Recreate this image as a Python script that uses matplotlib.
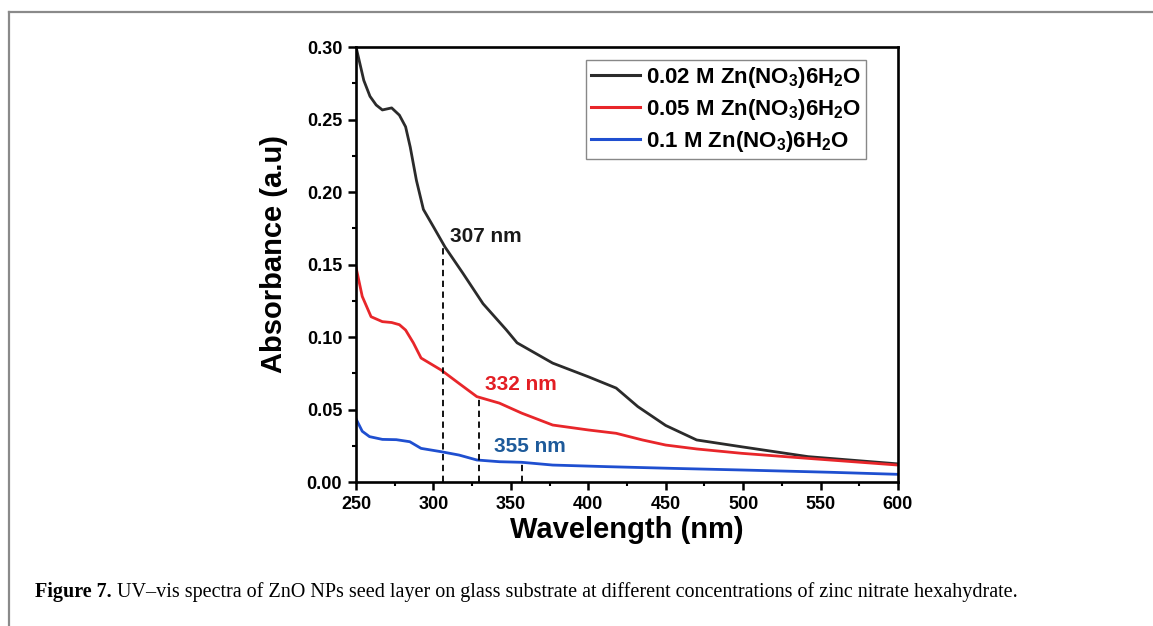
import matplotlib
matplotlib.use('Agg')
import matplotlib.pyplot as plt
from matplotlib.lines import Line2D
from matplotlib.ticker import MultipleLocator, FormatStrFormatter

plt.rcParams['font.family'] = ['Liberation Sans', 'DejaVu Sans']
plt.rcParams['font.weight'] = 'bold'
plt.rcParams['mathtext.fontset'] = 'custom'
plt.rcParams['mathtext.rm'] = 'Liberation Sans:bold'
plt.rcParams['mathtext.it'] = 'Liberation Sans:bold'
plt.rcParams['mathtext.bf'] = 'Liberation Sans:bold'
plt.rcParams['mathtext.default'] = 'rm'

# spectra (wavelength in nm, absorbance in a.u.)
wl_02 = [250, 255, 259, 263, 267, 273, 278, 282, 285, 289, 293.5, 300, 307.5,
         319, 332, 347, 354, 377, 400, 418, 432, 450, 470, 499, 542, 600]
abs_02 = [0.300, 0.277, 0.266, 0.260, 0.2566, 0.258, 0.253, 0.245, 0.231, 0.208,
          0.188, 0.176, 0.162, 0.144, 0.123, 0.105, 0.096, 0.082, 0.0726, 0.0648,
          0.052, 0.039, 0.029, 0.0243, 0.0175, 0.0125]

wl_05 = [250, 254, 259.7, 267, 273, 278, 282, 287, 292, 305, 316.5, 328, 342.6,
         357, 377, 400, 418, 435, 450, 470, 499, 542, 600]
abs_05 = [0.148, 0.128, 0.114, 0.1106, 0.1100, 0.1085, 0.1048, 0.096, 0.0855,
          0.0772, 0.068, 0.0589, 0.0544, 0.0475, 0.0393, 0.0359, 0.0336, 0.029,
          0.0255, 0.0228, 0.0198, 0.0163, 0.0117]

wl_1 = [250, 254, 258.7, 267, 276, 284.7, 292, 305, 316.5, 328, 342.6, 357,
        377, 412, 455, 499, 557, 600]
abs_1 = [0.0435, 0.035, 0.0313, 0.0294, 0.0292, 0.0278, 0.0232, 0.0209, 0.0186,
         0.0152, 0.0140, 0.0136, 0.0117, 0.0106, 0.0094, 0.0083, 0.0067, 0.0053]

labels = ['0.02 M Zn(NO$_3$)6H$_2$O', '0.05 M Zn(NO$_3$)6H$_2$O', '0.1 M Zn(NO$_3$)6H$_2$O']
colors = ['#2b2b2b', '#e8262a', '#1f4fd0']

# band-edge markers
edge_wl = [306, 329.5, 357.5]
edge_abs = [0.162, 0.059, 0.0136]
edge_text = ['307 nm', '332 nm', '355 nm']
text_x = [311, 333, 339]
text_y = [0.169, 0.067, 0.0243]
text_colors = ['#1a1a1a', '#e31e24', '#1d5a9a']

caption_bold = 'Figure 7.'
caption_rest = (' UV\u2013vis spectra of ZnO NPs seed layer on glass substrate at different '
                'concentrations of zinc nitrate hexahydrate.')

fig = plt.figure(figsize=(11.53, 6.26), dpi=100)
ax = fig.add_axes([0.3088, 0.2300, 0.4700, 0.6949])

for x, y, lab, c in zip([wl_02, wl_05, wl_1], [abs_02, abs_05, abs_1], labels, colors):
    ax.plot(x, y, color=c, lw=2.0, label=lab)

for x, y in zip(edge_wl, edge_abs):
    ax.plot([x, x], [0, y], color='black', lw=1.3, ls=(0, (3.5, 2.5)))

for x, y, t, c in zip(text_x, text_y, edge_text, text_colors):
    ax.text(x, y, t, color=c, fontsize=15, fontweight='bold', ha='left', va='center')

ax.set_xlim(250, 600)
ax.set_ylim(0, 0.30)
ax.xaxis.set_major_locator(MultipleLocator(50))
ax.xaxis.set_minor_locator(MultipleLocator(25))
ax.yaxis.set_major_locator(MultipleLocator(0.05))
ax.yaxis.set_minor_locator(MultipleLocator(0.025))
ax.yaxis.set_major_formatter(FormatStrFormatter('%.2f'))
ax.tick_params(which='major', direction='out', length=6, width=1.8, labelsize=13, pad=4)
ax.tick_params(which='minor', direction='out', length=3, width=1.5)
for s in ax.spines.values():
    s.set_linewidth(1.9)

ax.set_xlabel('Wavelength (nm)', fontsize=21, fontweight='bold')
ax.set_ylabel('Absorbance (a.u)', fontsize=21, fontweight='bold')
ax.xaxis.set_label_coords(0.5, -0.11)
ax.yaxis.set_label_coords(-0.151, 0.525)
ax.xaxis.label.set_va('center')
ax.yaxis.label.set_va('center')

leg = ax.legend(loc='upper right', bbox_to_anchor=(0.941, 0.970), borderaxespad=0,
                fontsize=16, handlelength=2.2, handletextpad=0.3, borderpad=0.2,
                labelspacing=0.33, fancybox=False, framealpha=1)
leg.get_frame().set_edgecolor('#888888')
leg.get_frame().set_linewidth(1.0)
for line in leg.get_lines():
    line.set_linewidth(2.2)

# page frame around the figure
fig.add_artist(Line2D([9 / 1153, 1], [1 - 12 / 626, 1 - 12 / 626], color='#8a8a8a', lw=1.6,
                      transform=fig.transFigure))
fig.add_artist(Line2D([9 / 1153, 9 / 1153], [0, 1 - 12 / 626], color='#8a8a8a', lw=1.6,
                      transform=fig.transFigure))

cap1 = fig.text(35 / 1153, 1 - 592 / 626, caption_bold, family='Liberation Serif',
                fontweight='bold', fontsize=14.5, va='center', ha='left')
ax.annotate(caption_rest, xy=(1, 0), xycoords=cap1, va='bottom', ha='left',
            family='Liberation Serif', fontweight='normal', fontsize=14.5,
            annotation_clip=False)

fig.savefig('out.png', dpi=100)
